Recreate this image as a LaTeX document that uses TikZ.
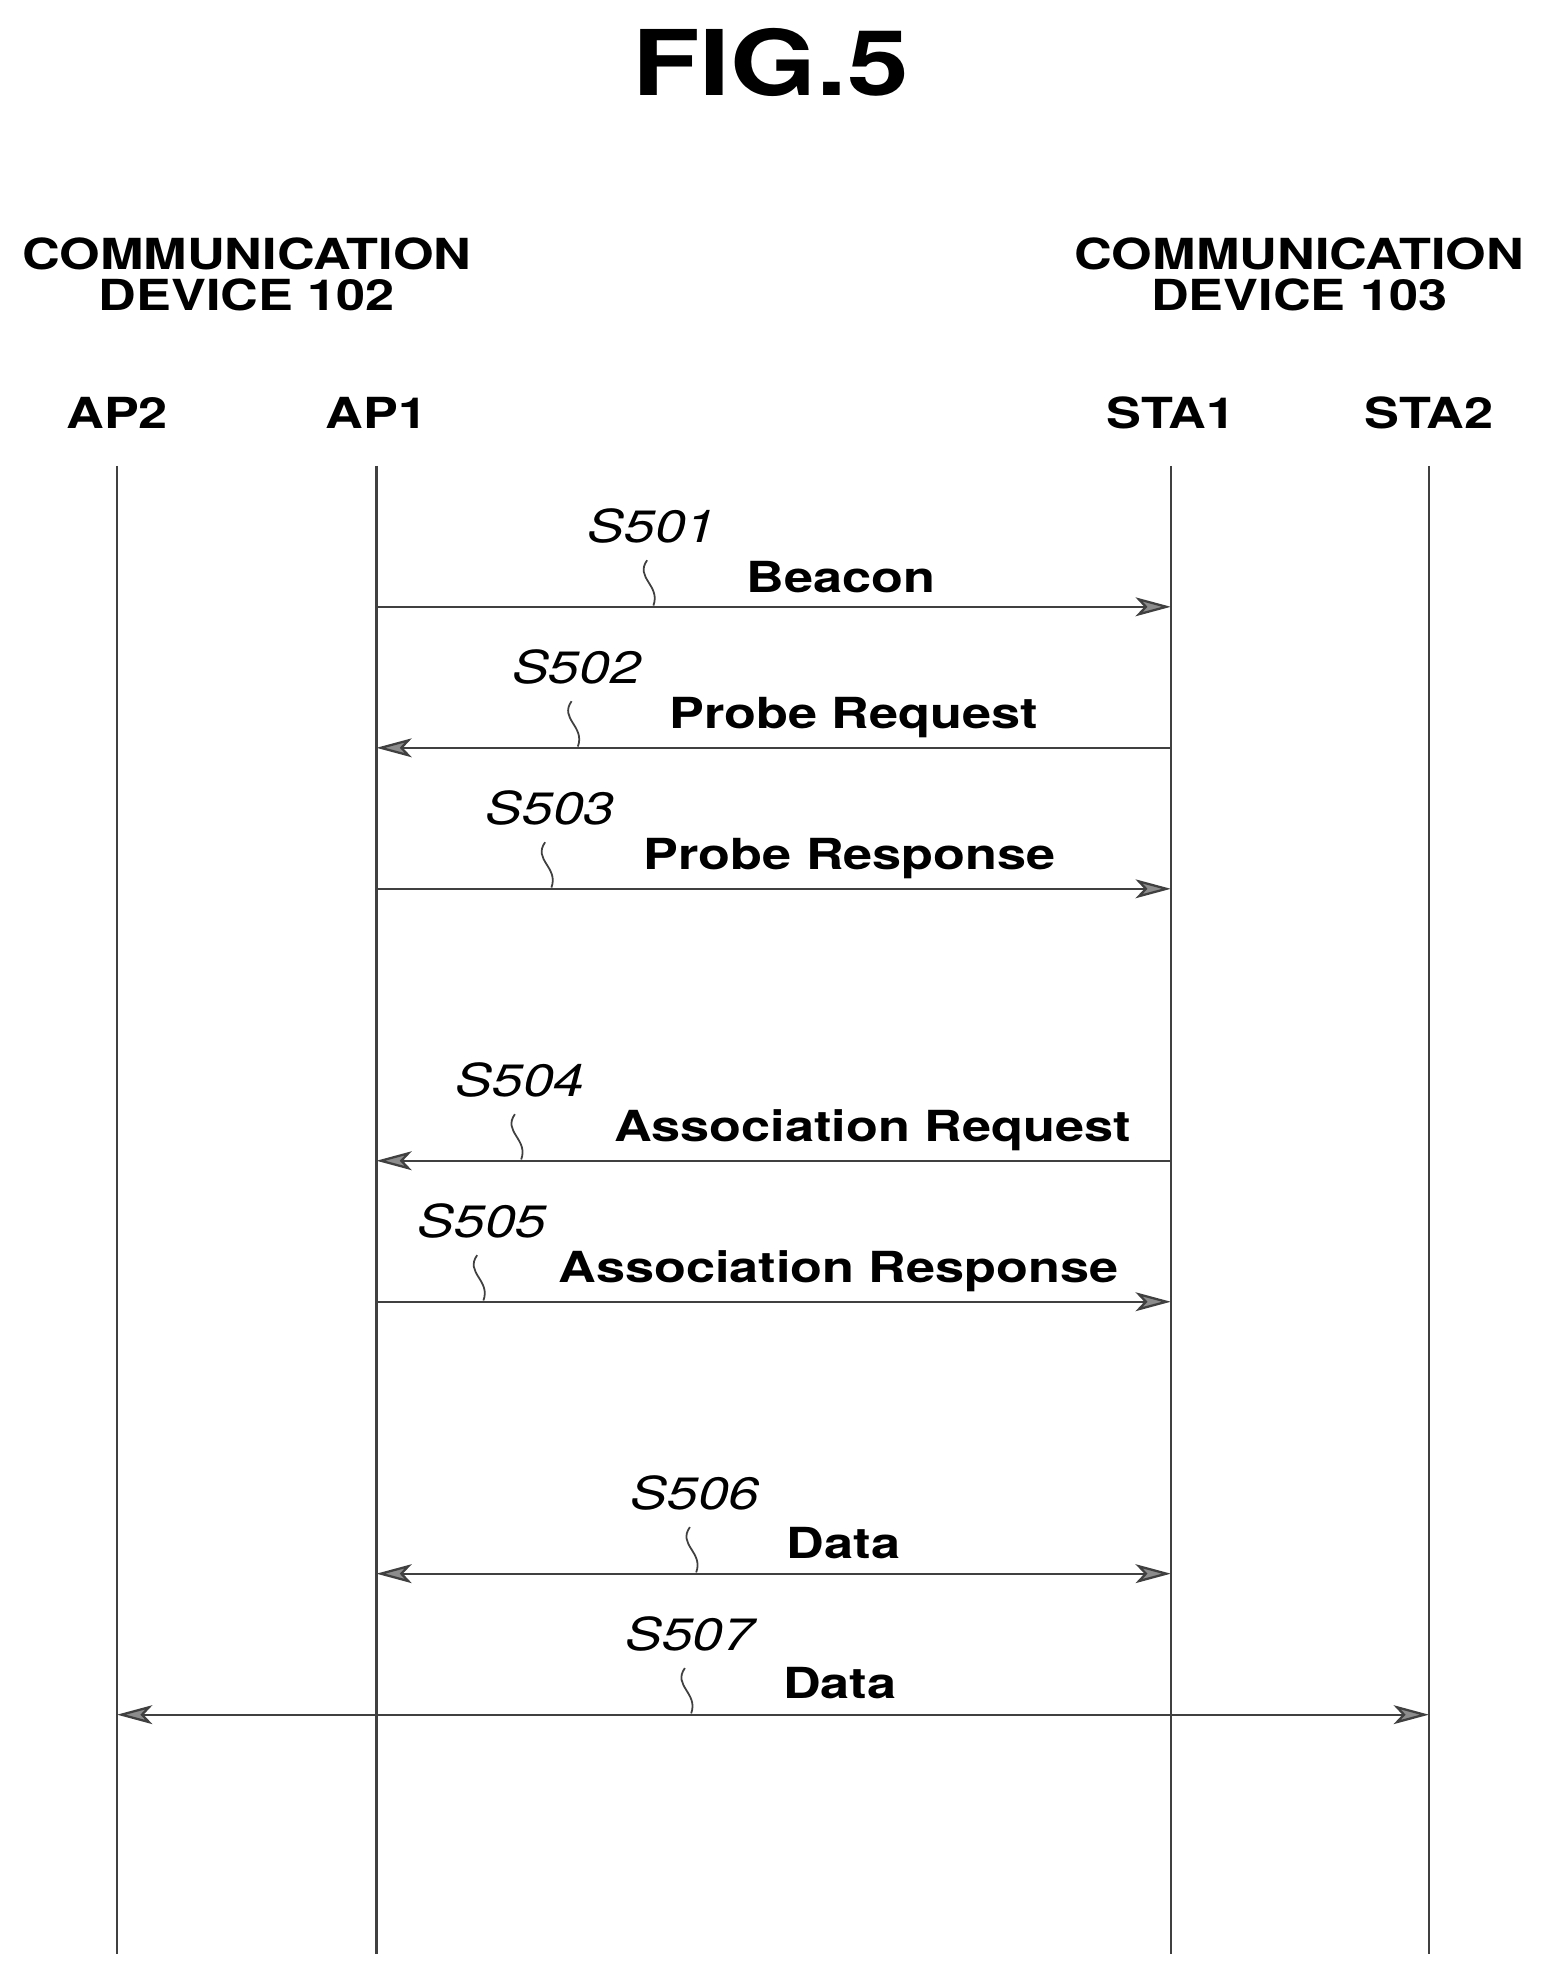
\documentclass[tikz,border=0pt]{standalone}
\usepackage{fontspec}
\setmainfont[FakeStretch=1.22]{TeX Gyre Heros}
\usetikzlibrary{arrows.meta,calc}
\begin{document}
\begin{tikzpicture}[x=1pt,y=-1pt,
  tip/.tip={Stealth[length=28pt,width=15pt,inset=7pt,fill=black!45]},
  life/.style={line width=1.8pt,black!75},
  msg/.style={line width=1.8pt,black!75,-tip},
  msgb/.style={line width=1.8pt,black!75,tip-tip},
  lbl/.style={font=\fontsize{34}{36}\selectfont\bfseries,inner sep=0pt},
  stp/.style={font=\fontsize{36}{38}\selectfont\itshape,inner sep=0pt},
  hdr/.style={font=\fontsize{34}{33}\selectfont\bfseries,align=center,inner sep=0pt},
  sq/.style={line width=1.4pt,black!75}]
\useasboundingbox (0,0) rectangle (1227,1568);
\node[font=\fontsize{72}{74}\selectfont\bfseries,inner sep=0pt] (title) at (612,50) {FIG.5};
\node[hdr] (d102) at (196,218) {COMMUNICATION\\DEVICE 102};
\node[hdr] (d103) at (1032,218) {COMMUNICATION\\DEVICE 103};
\foreach \n/\t/\x in {ap2/AP2/93, ap1/AP1/299, sta1/STA1/930, sta2/STA2/1135}{
  \node[lbl] (\n) at (\x,328) {\t};
  \coordinate (\n t) at (\x,370);
  \coordinate (\n b) at (\x,1552);
  \draw[life] (\n t) -- (\n b);
}
\foreach \y/\txt/\tx/\s/\sx in {
  482/Beacon/668/S501/518,
  594/Probe Request/678/S502/458,
  706/Probe Response/675/S503/437,
  922/Association Request/693/S504/413,
  1034/Association Response/666/S505/383,
  1250/Data/670/S506/552}{
  \coordinate (L\y) at (299,\y);
  \coordinate (R\y) at (930,\y);
  \node[lbl] (m\y) at (\tx,\y-24) {\txt};
  \node[stp] (s\y) at (\sx,\y-64) {\s};
  \coordinate (q\y) at (\sx-4,\y-37);
  \coordinate (e\y) at (\sx+1,\y-1);
  \draw[sq] (q\y) .. controls ($(q\y)+(-10,14)$) and ($(e\y)+(6,-16)$) .. (e\y);
}
\draw[msg] (L482) -- (R482);
\draw[msg] (R594) -- (L594);
\draw[msg] (L706) -- (R706);
\draw[msg] (R922) -- (L922);
\draw[msg] (L1034) -- (R1034);
\draw[msgb] (L1250) -- (R1250);
\coordinate (L1362) at (93,1362);
\coordinate (R1362) at (1135,1362);
\draw[msgb] (L1362) -- (R1362);
\node[lbl] (m1362) at (667,1337) {Data};
\node[stp] (s1362) at (548,1298) {S507};
\coordinate (q1362) at (544,1325);
\coordinate (e1362) at (549,1361);
\draw[sq] (q1362) .. controls (534,1339) and (555,1345) .. (e1362);
\end{tikzpicture}
\end{document}
